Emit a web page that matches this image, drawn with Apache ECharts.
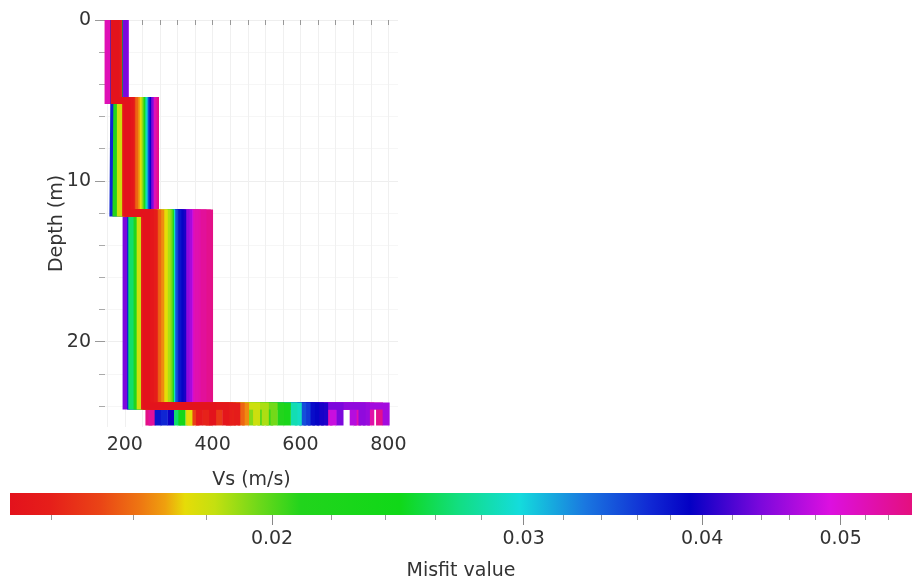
<!DOCTYPE html>
<html>
<head>
<meta charset="utf-8">
<script src="https://cdn.jsdelivr.net/npm/echarts@6/dist/echarts.min.js"></script>
<style>
html,body{margin:0;padding:0;background:#fff;}
#chart{width:912px;height:585px;}
</style>
</head>
<body>
<div id="chart"></div>
<script>
// ---- Data ----
// Misfit of each model (colour) and Vs of each layer (m/s)
const misfit = [0.0132,0.0134,0.0136,0.0138,0.0141,0.0144,0.0148,0.0158,0.0165,0.0174,0.0180,0.0186,0.0195,0.0210,0.0225,0.0240,0.0285,0.0300,0.0350,0.0370,0.0385,0.0395,0.0400,0.0440,0.0450,0.0460,0.0520,0.0530,0.0540,0.0550,0.0555,
                0.0150,0.0146,0.0139,0.0192,0.0200,0.0205,0.0290,0.0360,0.0390,0.0402,0.0480,0.0470,0.0525,0.0455,0.0380,0.0265,0.0178];
const vsLayer1 = [180,176,184,178,182,186,179,183,181,185,177,184,180,182,185,187,181,184,186,175,183,187,185,200,198,201,163,162,164,166,165,
                181,183,177,184,182,180,183,185,186,187,199,200,163,199,186,184,183];
const vsLayer2 = [205,210,214,202,208,216,212,222,226,230,190,232,234,180,238,236,242,244,248,173,250,249,252,256,258,255,262,265,260,268,270,
                206,211,209,233,235,236,243,247,251,252,257,256,263,257,250,240,229];
const vsLayer3 = [250,258,245,265,255,268,262,275,282,290,235,296,300,228,304,300,220,306,312,213,322,318,332,203,338,345,352,365,378,388,393,
                252,260,248,298,301,302,307,314,326,330,348,342,360,340,320,216,288];
const vsHalfspace = [400,430,370,455,385,445,415,465,475,350,500,520,540,555,570,330,585,335,605,290,625,305,645,690,740,795,665,760,262,780,255,
                362,392,438,490,510,530,595,615,635,655,675,720,730,750,276,320,346];
const layerBottoms = [5, 12, 24];      // depth of interfaces (m)
const profileBottom = 25.2;            // depth where profiles stop (m)

// Axis ticks
const vsTicks = [160,200,240,280,320,360,400,440,480,520,560,600,640,680,720,760,800];
const vsLabels = [200,400,600,800];
const depthMajor = [0,10,20];
const depthMinor = [2,4,6,8,12,14,16,18,22,24];
const misfitMajor = [0.02,0.03,0.04,0.05];
const misfitMinor = [0.014,0.016,0.018,0.022,0.024,0.026,0.028,0.032,0.034,0.036,0.038,0.042,0.044,0.046,0.048,0.052,0.054];
const misfitMin = 0.01311, misfitMax = 0.0561;

// Colour scale
const scalePos = [0.000,0.044,0.100,0.144,0.172,0.194,0.227,0.277,0.322,0.432,0.499,0.565,0.637,0.710,0.754,0.831,0.909,1.000];
const scaleColors = ['#e3121c','#e61e1a','#ea4416','#ee7612','#efa00e','#e6dc08','#c4e010','#6cd81a','#22d41c','#10d818','#12de84','#14dcdc','#1a78e0','#1028d4','#0400c4','#7a08dc','#dc10e0','#e4107e'];

// ---- Helpers ----
const lnMin = Math.log(misfitMin), lnMax = Math.log(misfitMax);
function hex2rgb(h){return [parseInt(h.substr(1,2),16),parseInt(h.substr(3,2),16),parseInt(h.substr(5,2),16)];}
function colorOf(m){
  let t = (Math.log(m)-lnMin)/(lnMax-lnMin);
  t = Math.max(0, Math.min(1, t));
  for (let i=0;i<scalePos.length-1;i++){
    if (t<=scalePos[i+1]){
      const f=(t-scalePos[i])/(scalePos[i+1]-scalePos[i]);
      const a=hex2rgb(scaleColors[i]), b=hex2rgb(scaleColors[i+1]);
      const c=a.map((v,k)=>Math.round(v+(b[k]-v)*f));
      return 'rgb('+c.join(',')+')';
    }
  }
  return scaleColors[scaleColors.length-1];
}

// Build profile series, worst misfit drawn first
const order = misfit.map((m,i)=>i).sort((a,b)=>misfit[b]-misfit[a]);
const font = 'DejaVu Sans';
const series = order.map(i=>{
  const v=[vsLayer1[i],vsLayer2[i],vsLayer3[i],vsHalfspace[i]];
  const pts=[[v[0],0]];
  for(let k=0;k<3;k++){pts.push([v[k],layerBottoms[k]]);pts.push([v[k+1],layerBottoms[k]]);}
  pts.push([v[3],profileBottom]);
  return {
    type:'line', xAxisIndex:0, yAxisIndex:0, data:pts, showSymbol:false, symbol:'none',
    silent:true, animation:false,
    lineStyle:{color:colorOf(misfit[i]), width:7, join:'miter', cap:'butt'}
  };
});

const stops = scalePos.map((p,i)=>({offset:p,color:scaleColors[i]}));
series.push({
  type:'custom', xAxisIndex:1, yAxisIndex:2, silent:true, animation:false,
  data:[[lnMin, lnMax]],
  renderItem:function(params, api){
    const p0=api.coord([api.value(0),1]), p1=api.coord([api.value(1),0]);
    return {type:'rect', shape:{x:p0[0],y:p0[1],width:p1[0]-p0[0],height:p1[1]-p0[1]},
      style:{fill:new echarts.graphic.LinearGradient(0,0,1,0,stops)}};
  }
});

const chart = echarts.init(document.getElementById('chart'), null, {renderer:'canvas'});
chart.setOption({
  backgroundColor:'#fff',
  animation:false,
  grid:[
    {left:105, right:514, top:20, height:407},
    {left:10, right:0, top:493, height:22}
  ],
  xAxis:[
    {type:'value', gridIndex:0, min:155, max:822,
     name:'Vs (m/s)', nameLocation:'middle', nameGap:44, nameMoveOverlap:false,
     nameTextStyle:{fontFamily:font, fontSize:19, color:'#333'},
     axisLine:{show:false},
     axisTick:{show:true, customValues:vsTicks, length:5, lineStyle:{color:'#999'}},
     axisLabel:{customValues:vsLabels, fontFamily:font, fontSize:19, color:'#333', margin:9},
     splitLine:{show:true, lineStyle:{color:'#f0f0f0', width:1}}
    },
    {type:'value', gridIndex:1, min:lnMin, max:lnMax,
     name:'Misfit value', nameLocation:'middle', nameGap:47, nameMoveOverlap:false,
     nameTextStyle:{fontFamily:font, fontSize:19, color:'#333'},
     axisLine:{show:false},
     axisTick:{show:true, customValues:misfitMajor.map(Math.log), length:10, lineStyle:{color:'#888'}},
     axisLabel:{customValues:misfitMajor.map(Math.log), fontFamily:font, fontSize:19, color:'#333', margin:15,
       formatter:function(v){return Math.exp(v).toFixed(2);}},
     splitLine:{show:false}
    },
    {type:'value', gridIndex:1, min:lnMin, max:lnMax, position:'bottom',
     axisLine:{show:false},
     axisTick:{show:true, customValues:misfitMinor.map(Math.log), length:5, lineStyle:{color:'#999'}},
     axisLabel:{show:false}, splitLine:{show:false}
    }
  ],
  yAxis:[
    {type:'value', gridIndex:0, inverse:true, min:0, max:25.3, position:'left',
     name:'Depth (m)', nameLocation:'middle', nameGap:38, nameMoveOverlap:false,
     nameTextStyle:{fontFamily:font, fontSize:19, color:'#333'},
     axisLine:{show:false},
     axisTick:{show:true, customValues:depthMajor, length:10, lineStyle:{color:'#999'}},
     axisLabel:{customValues:depthMajor, fontFamily:font, fontSize:19, color:'#333', margin:14},
     splitLine:{show:true, lineStyle:{color:'#eeeeee'}}
    },
    {type:'value', gridIndex:0, inverse:true, min:0, max:25.3, position:'left', offset:0,
     axisLine:{show:false},
     axisTick:{show:true, customValues:depthMinor, length:6, lineStyle:{color:'#aaa'}},
     axisLabel:{show:false},
     splitLine:{show:true, lineStyle:{color:'#f6f6f6'}}
    },
    {type:'value', gridIndex:1, min:0, max:1, show:false}
  ],
  series:series
});
</script>
</body>
</html>
